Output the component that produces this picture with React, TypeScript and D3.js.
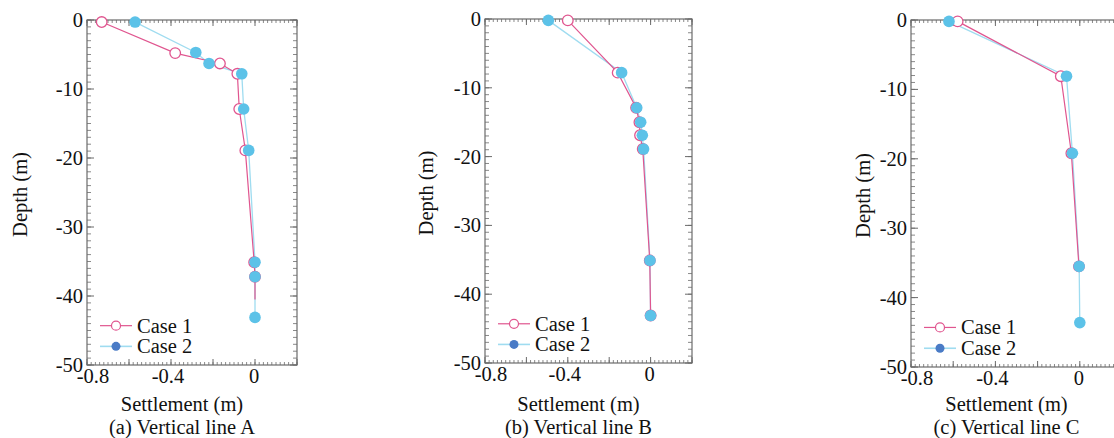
import React from "react";
import * as d3 from "d3";

// ---------- DATA ----------
const xTickLabels = [-0.8, -0.4, 0];
const yTickLabels = [0, -10, -20, -30, -40, -50];
const seriesNames = ["Case 1", "Case 2"];
const panelTitles = ["(a) Vertical line A", "(b) Vertical line B", "(c) Vertical line C"];

// Panel A
const aCase1Settlement = [-0.73, -0.38, -0.167, -0.084, -0.075, -0.046, -0.004, 0.0, 0.0];
const aCase1Depth = [-0.3, -4.8, -6.3, -7.8, -12.9, -18.9, -35.1, -37.2, -40.5];
const aCase1Marker = [true, true, true, true, true, true, true, true, false];
const aCase2Settlement = [-0.571, -0.282, -0.219, -0.063, -0.054, -0.030, 0.0, 0.0, 0.0];
const aCase2Depth = [-0.3, -4.7, -6.3, -7.8, -12.9, -18.9, -35.1, -37.2, -43.1];

// Panel B
const bCase1Settlement = [-0.40, -0.159, -0.07, -0.054, -0.051, -0.038, -0.004, 0.0];
const bCase1Depth = [-0.2, -7.8, -12.9, -15.0, -16.9, -18.9, -35.1, -43.1];
const bCase1Marker = [true, true, true, true, true, true, true, true];
const bCase2Settlement = [-0.494, -0.14, -0.067, -0.048, -0.040, -0.034, -0.003, 0.0];
const bCase2Depth = [-0.2, -7.8, -12.9, -15.0, -16.9, -18.9, -35.1, -43.1];

// Panel C
const cCase1Settlement = [-0.579, -0.09, -0.04, -0.004];
const cCase1Depth = [-0.2, -8.1, -19.2, -35.5];
const cCase1Marker = [true, true, true, true];
const cCase2Settlement = [-0.62, -0.063, -0.035, -0.003, 0.0];
const cCase2Depth = [-0.2, -8.1, -19.2, -35.5, -43.6];

// ---------- STYLE ----------
const PINK = "#e0558f";
const CYAN_LINE = "#9fdcf0";
const CYAN_FILL = "#5cc2e8";
const LEGEND_BLUE = "#4a7bc6";
const FRAME = "#6b6b6b";
const FONT = "Liberation Serif";
const FS = 20.5;

type Panel = {
  x0: number; x1: number; y0: number; y1: number;
  depthX: number;
  c1x: number[]; c1y: number[]; c1m: boolean[];
  c2x: number[]; c2y: number[];
  title: string;
};

const panels: Panel[] = [
  { x0: 87, x1: 297, y0: 20, y1: 365, depthX: 27, c1x: aCase1Settlement, c1y: aCase1Depth, c1m: aCase1Marker, c2x: aCase2Settlement, c2y: aCase2Depth, title: panelTitles[0] },
  { x0: 485, x1: 692, y0: 19, y1: 363, depthX: 433, c1x: bCase1Settlement, c1y: bCase1Depth, c1m: bCase1Marker, c2x: bCase2Settlement, c2y: bCase2Depth, title: panelTitles[1] },
  { x0: 911, x1: 1122, y0: 20, y1: 367, depthX: 870, c1x: cCase1Settlement, c1y: cCase1Depth, c1m: cCase1Marker, c2x: cCase2Settlement, c2y: cCase2Depth, title: panelTitles[2] },
];

const textStyle: React.CSSProperties = { fontFamily: FONT, fontSize: FS, fill: "#111" };

function PanelView({ p }: { p: Panel }) {
  const x = d3.scaleLinear().domain([-0.8, 0.2]).range([p.x0, p.x1]);
  const y = d3.scaleLinear().domain([0, -50]).range([p.y0, p.y1]);
  const line = d3.line<[number, number]>().x(d => x(d[0])).y(d => y(d[1]));
  const c1 = p.c1x.map((v, i) => [v, p.c1y[i]] as [number, number]);
  const c2 = p.c2x.map((v, i) => [v, p.c2y[i]] as [number, number]);

  const xMinor = d3.range(0, 51).map(i => -0.8 + i * 0.02);
  const xMajor = d3.range(0, 6).map(i => -0.8 + i * 0.2);
  const yMinor = d3.range(0, 51).map(i => -i);
  const yMajor = yTickLabels;

  const midX = (p.x0 + p.x1) / 2 - 10;
  const legX = p.x0 + 13;
  const legY1 = y(-44.3);
  const legY2 = y(-47.3);

  return (
    <g>
      <rect x={p.x0} y={p.y0} width={p.x1 - p.x0} height={p.y1 - p.y0} fill="none" stroke={FRAME} strokeWidth={1.2} />
      {xMinor.map((v, i) => (
        <g key={"xm" + i}>
          <line x1={x(v)} x2={x(v)} y1={p.y0} y2={p.y0 + 3} stroke={FRAME} strokeWidth={0.8} />
          <line x1={x(v)} x2={x(v)} y1={p.y1} y2={p.y1 - 3} stroke={FRAME} strokeWidth={0.8} />
        </g>
      ))}
      {xMajor.map((v, i) => (
        <g key={"xM" + i}>
          <line x1={x(v)} x2={x(v)} y1={p.y0} y2={p.y0 + 6} stroke={FRAME} strokeWidth={1} />
          <line x1={x(v)} x2={x(v)} y1={p.y1} y2={p.y1 - 6} stroke={FRAME} strokeWidth={1} />
        </g>
      ))}
      {yMinor.map((v, i) => (
        <g key={"ym" + i}>
          <line x1={p.x0} x2={p.x0 + 4} y1={y(v)} y2={y(v)} stroke={FRAME} strokeWidth={0.8} />
          <line x1={p.x1} x2={p.x1 - 4} y1={y(v)} y2={y(v)} stroke={FRAME} strokeWidth={0.8} />
        </g>
      ))}
      {yMajor.map((v, i) => (
        <g key={"yM" + i}>
          <line x1={p.x0} x2={p.x0 + 7} y1={y(v)} y2={y(v)} stroke={FRAME} strokeWidth={1} />
          <line x1={p.x1} x2={p.x1 - 7} y1={y(v)} y2={y(v)} stroke={FRAME} strokeWidth={1} />
        </g>
      ))}
      {yTickLabels.map((v, i) => (
        <text key={"yl" + i} x={p.x0 - 4} y={y(v) + 7} textAnchor="end" style={textStyle}>{v}</text>
      ))}
      {xTickLabels.map((v, i) => (
        <text key={"xl" + i} x={x(v) + (v === -0.8 ? 6 : v === -0.4 ? -3 : -1)} y={p.y1 + 18} textAnchor="middle" style={textStyle}>{v === 0 ? "0" : String(v)}</text>
      ))}
      <text x={midX} y={411} textAnchor="middle" style={textStyle}>Settlement (m)</text>
      <text x={midX} y={434} textAnchor="middle" style={textStyle}>{p.title}</text>
      <text transform={`translate(${p.depthX},${(p.y0 + p.y1) / 2 + 2}) rotate(-90)`} textAnchor="middle" style={textStyle}>Depth (m)</text>

      <path d={line(c2) || ""} fill="none" stroke={CYAN_LINE} strokeWidth={1.3} />
      <path d={line(c1) || ""} fill="none" stroke={PINK} strokeWidth={1.2} />
      {c1.map((d, i) => p.c1m[i] ? (
        <circle key={"c1" + i} cx={x(d[0])} cy={y(d[1])} r={5.3} fill="#fff" stroke={PINK} strokeWidth={1.3} />
      ) : null)}
      {c2.map((d, i) => (
        <circle key={"c2" + i} cx={x(d[0])} cy={y(d[1])} r={5.8} fill={CYAN_FILL} stroke="none" />
      ))}

      <line x1={legX} x2={legX + 32} y1={legY1} y2={legY1} stroke={PINK} strokeWidth={1.2} />
      <circle cx={legX + 16} cy={legY1} r={4.5} fill="#fff" stroke={PINK} strokeWidth={1.2} />
      <text x={legX + 37} y={legY1 + 7} style={textStyle}>{seriesNames[0]}</text>
      <line x1={legX} x2={legX + 32} y1={legY2} y2={legY2} stroke={CYAN_LINE} strokeWidth={1.6} />
      <circle cx={legX + 16} cy={legY2} r={4.5} fill={LEGEND_BLUE} />
      <text x={legX + 37} y={legY2 + 7} style={textStyle}>{seriesNames[1]}</text>
    </g>
  );
}

export default function App() {
  return (
    <svg width={1114} height={438} style={{ display: "block", position: "absolute", left: 0, top: 0, background: "#fff" }}>
      {panels.map((p, i) => <PanelView key={i} p={p} />)}
    </svg>
  );
}
